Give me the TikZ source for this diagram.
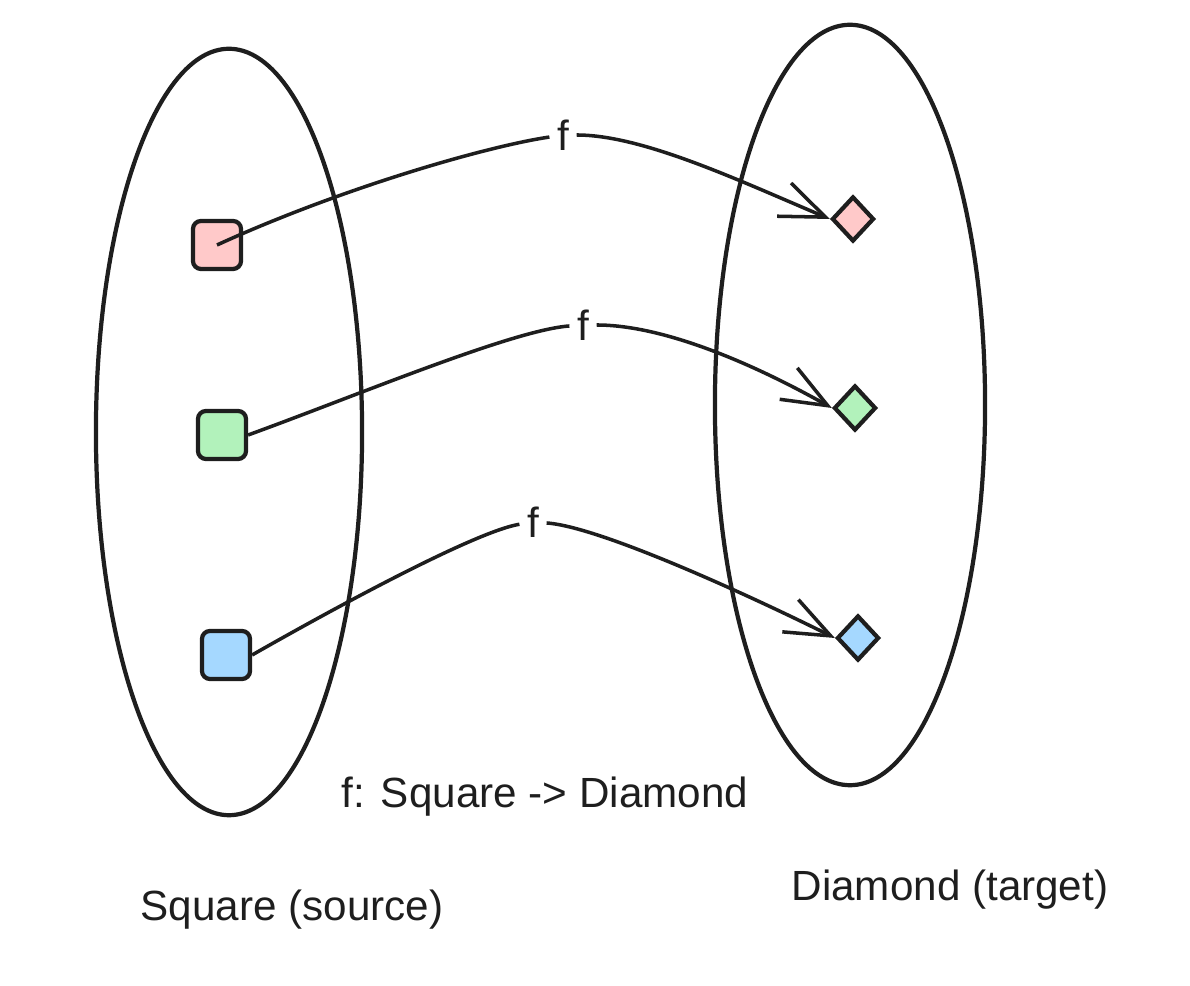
\documentclass[tikz,border=0pt]{standalone}
\usepackage{fontspec}
\setmainfont{Liberation Sans}
\usetikzlibrary{arrows.meta,shapes.geometric,positioning}
\definecolor{sqpink}{HTML}{FFC9C9}
\definecolor{sqgreen}{HTML}{B2F2BB}
\definecolor{sqblue}{HTML}{A5D8FF}
\definecolor{ink}{HTML}{1E1E1E}
\tikzset{
  sqbox/.style={
    shape = rectangle,
    rounded corners = 0.08cm,
    minimum size = 0.48cm,
    inner sep = 0,
    draw = ink,
    line width = 1.2pt
  },
  dmd/.style={
    shape = diamond,
    minimum width = 0.42cm,
    minimum height = 0.45cm,
    inner sep = 0,
    draw = ink,
    line width = 1.2pt
  },
  setline/.style={
    draw = ink,
    line width = 1.2pt
  },
  map/.style={
    draw = ink,
    line width = 1pt,
    -{Straight Barb[length=0.45cm,width=0.36cm]}
  },
  plain/.style={
    draw = ink,
    line width = 1pt
  },
  flbl/.style={
    inner sep = 2pt,
    text = ink,
    font = \fontsize{12}{14}\selectfont
  },
  txt/.style={
    text = ink,
    font = \fontsize{12}{14}\selectfont
  }
}
\begin{document}
\begin{tikzpicture}[x=0.01cm,y=-0.01cm]
        \useasboundingbox (0,0) rectangle (1190,986);
        \draw[setline] (229,432) ellipse [x radius=1.33cm, y radius=3.83cm];
        \draw[setline] (850,405) ellipse [x radius=1.35cm, y radius=3.80cm];
        \node[sqbox, fill=sqpink] (sq1) at (217,245) {};
        \node[sqbox, fill=sqgreen] (sq2) at (222,435) {};
        \node[sqbox, fill=sqblue] (sq3) at (226,655) {};
        \node[dmd, fill=sqpink] (di1) at (853,219) {};
        \node[dmd, fill=sqgreen] (di2) at (855,408) {};
        \node[dmd, fill=sqblue] (di3) at (858,638) {};
        \node[flbl] (f1) at (563,135) {f};
        \node[flbl] (f2) at (583,325) {f};
        \node[flbl] (f3) at (533,522) {f};
        \draw[plain] (sq1.center) .. controls +(120,-55) and +(-80,12) .. (f1);
        \draw[map] (f1) .. controls +(80,0) and +(-90,-38) .. (di1.west);
        \draw[plain] (sq2.east) .. controls +(110,-40) and +(-70,5) .. (f2);
        \draw[map] (f2) .. controls +(80,0) and +(-80,-45) .. (di2.west);
        \draw[plain] (sq3.east) .. controls +(70,-40) and +(-60,10) .. (f3);
        \draw[map] (f3) .. controls +(70,5) and +(-70,-35) .. (di3.west);
        \node[txt] (title) at (545,797) {f: Square -> Diamond};
        \node[txt] (src) at (292,910) {Square (source)};
        \node[txt] (tgt) at (950,890) {Diamond (target)};
\end{tikzpicture}
\end{document}
